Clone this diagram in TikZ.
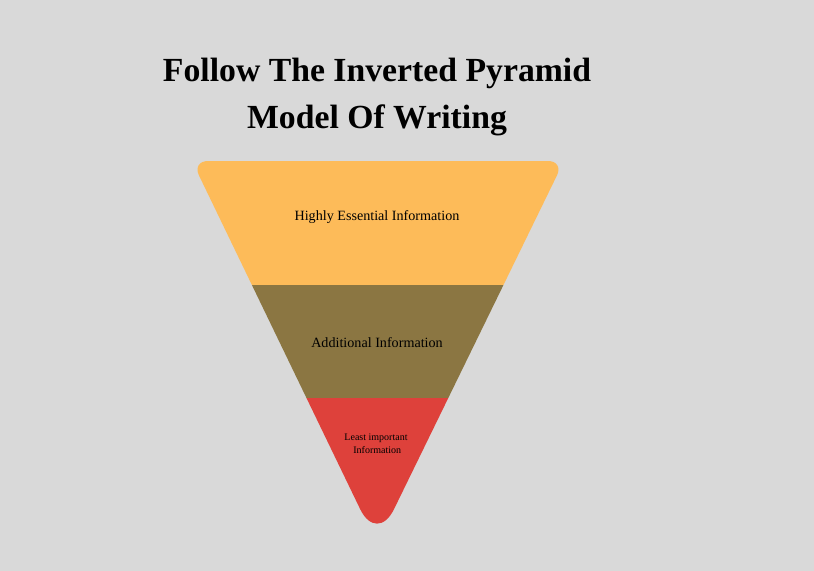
\documentclass[tikz,border=0pt]{standalone}
\usepackage{fontspec}
\setmainfont{Liberation Serif}

\definecolor{bgGray}{RGB}{217,217,217}
\definecolor{topOrange}{RGB}{253,187,89}
\definecolor{midOlive}{RGB}{139,118,66}
\definecolor{lowRed}{RGB}{222,65,59}

\tikzset{every picture/.style={line width=0.75pt}}
\tikzset{
title text/.style={font=\bfseries\fontsize{25.3}{35}\selectfont, align=center},
band text/.style={font=\fontsize{10.6}{12}\selectfont, inner sep=0.75pt},
small text/.style={font=\fontsize{7.5}{9.5}\selectfont, align=center, inner sep=0.75pt}}

\begin{document}
\begin{tikzpicture}[x=0.75pt,y=0.75pt,yscale=-1,xscale=1]
%Shape: Rectangle [background]
\fill [bgGray] (0,0) rectangle (814,571);
\useasboundingbox (0,0) rectangle (814,571);

%Shape: Inverted Triangle [clip]
\begin{scope}
\clip [rounded corners=12] (192,161) -- (564,161) [rounded corners=29] -- (377,544) [rounded corners=12] -- cycle;
%Shape: Rectangle [top band]
\fill [topOrange] (180,150) rectangle (580,285);
%Shape: Rectangle [middle band]
\fill [midOlive] (180,285) rectangle (580,398);
%Shape: Rectangle [bottom band]
\fill [lowRed] (180,398) rectangle (580,560);
\end{scope}

% Text Node
\node [title text] (title) at (377,97) {Follow The Inverted Pyramid\\Model Of Writing};
% Text Node
\node [band text] (essential) at (377,217) {Highly Essential Information};
% Text Node
\node [band text] (additional) at (377,343) {Additional Information};
% Text Node
\node [small text] (least) at (376,444) {Least important\\\ Information};

\end{tikzpicture}
\end{document}
